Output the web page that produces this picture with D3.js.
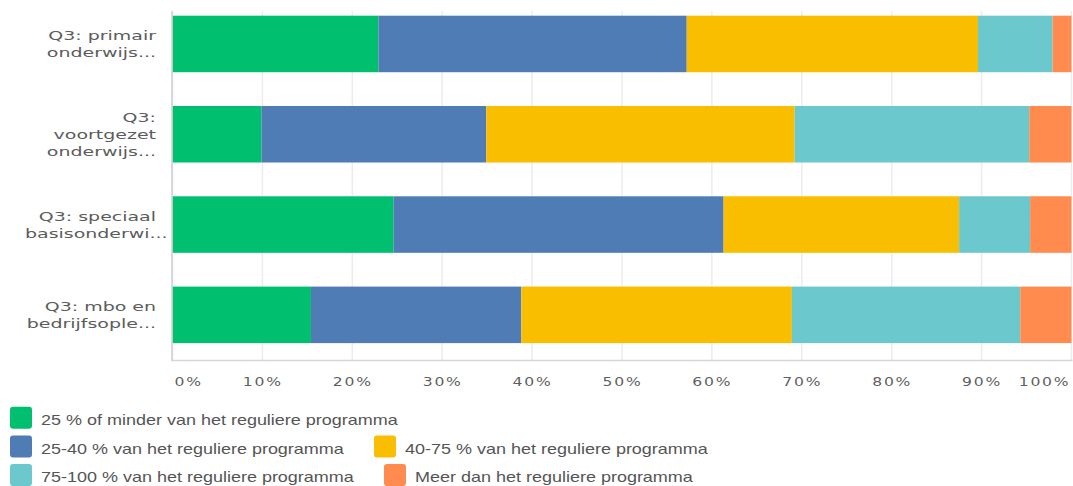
<!DOCTYPE html>
<html><head><meta charset="utf-8">
<script src="https://cdn.jsdelivr.net/npm/d3@7"></script>
<style>body{margin:0;background:#fff;} svg{display:block;}</style>
</head><body>
<svg id="chart" width="1073" height="486"></svg>
<script>
// ---- data ----
const categories = [
  ["Q3: primair", "onderwijs..."],
  ["Q3:", "voortgezet", "onderwijs..."],
  ["Q3: speciaal", "basisonderwi..."],
  ["Q3: mbo en", "bedrijfsople..."]
];
const seriesNames = [
  "25 % of minder van het reguliere programma",
  "25-40 % van het reguliere programma",
  "40-75 % van het reguliere programma",
  "75-100 % van het reguliere programma",
  "Meer dan het reguliere programma"
];
const seriesColors = ["#00BF6F", "#507CB6", "#F9BE00", "#6BC8CD", "#FF8B4F"];
const lessThan25 = [22.9, 9.9, 24.6, 15.4];
const from25to40 = [34.3, 25.0, 36.7, 23.4];
const from40to75 = [32.4, 34.3, 26.2, 30.1];
const from75to100 = [8.3, 26.1, 7.9, 25.4];
const moreThan = [2.1, 4.7, 4.6, 5.7];
const tickValues = [0, 10, 20, 30, 40, 50, 60, 70, 80, 90, 100];
const tickLabels = ["0%", "10%", "20%", "30%", "40%", "50%", "60%", "70%", "80%", "90%", "100%"];

const seriesValues = [lessThan25, from25to40, from40to75, from75to100, moreThan];
const keys = seriesNames.map((d, i) => "s" + i);
const rows = categories.map((c, i) => {
  const o = { idx: i };
  keys.forEach((k, j) => o[k] = seriesValues[j][i]);
  return o;
});

// ---- layout ----
const svg = d3.select("#chart");
const x = d3.scaleLinear().domain([0, 100]).range([172.5, 1071.5]);
const y = d3.scaleBand().domain(d3.range(categories.length))
  .range([-1.2, 360]).paddingInner(0.374).paddingOuter(0.187);
const color = d3.scaleOrdinal().domain(keys).range(seriesColors);

// grid
svg.append("g").selectAll("line").data(tickValues).join("line")
  .attr("x1", d => x(d)).attr("x2", d => x(d))
  .attr("y1", 11).attr("y2", 360)
  .attr("stroke", "#ececec").attr("stroke-width", 1.5);

// bars
const stack = d3.stack().keys(keys)(rows);
svg.append("g").selectAll("g").data(stack).join("g")
  .attr("fill", d => color(d.key))
  .selectAll("rect").data(d => d).join("rect")
  .attr("x", d => x(d[0]))
  .attr("width", d => x(d[1]) - x(d[0]))
  .attr("y", d => y(d.data.idx))
  .attr("height", y.bandwidth());

// axis lines
svg.append("line").attr("x1", x(0) - 0.5).attr("x2", x(0) - 0.5).attr("y1", 11).attr("y2", 361)
  .attr("stroke", "#cfcfcf").attr("stroke-width", 1.5);
svg.append("line").attr("x1", x(0) - 1).attr("x2", x(100) + 1).attr("y1", 360.5).attr("y2", 360.5)
  .attr("stroke", "#d6d6d6").attr("stroke-width", 1.5);

// x axis labels
const axis = d3.axisBottom(x).tickValues(tickValues)
  .tickFormat((d, i) => tickLabels[i]).tickSize(0).tickPadding(0);
const ax = svg.append("g").attr("transform", "translate(0,360)").call(axis);
ax.select(".domain").remove();
const nT = tickValues.length;
ax.selectAll("text")
  .attr("y", null).attr("dy", null)
  .attr("fill", "#5f5f5f")
  .attr("font-family", "'DejaVu Sans', sans-serif")
  .attr("font-size", 12)
  .attr("letter-spacing", 1.4)
  .attr("text-anchor", (d, i) => i === 0 ? "start" : (i === nT - 1 ? "end" : "middle"))
  .attr("transform", (d, i) => {
    const off = i === 0 ? 1.5 : (i === nT - 1 ? -1.5 : 0);
    return `translate(${off},26) scale(1.3,1)`;
  });

// y labels
const labelRight = 156, labelLeft = 25, lineH = 17, ySX = 1.46;
const yl = svg.append("g");
categories.forEach((lines, i) => {
  const cy = y(i) + y.bandwidth() / 2;
  lines.forEach((ln, j) => {
    const ty = cy + (j - (lines.length - 1) / 2) * lineH + 4.6;
    const t = yl.append("text")
      .text(ln)
      .attr("fill", "#5c5c5c")
      .attr("font-family", "'DejaVu Sans', sans-serif")
      .attr("font-size", 13)
      .attr("text-anchor", "end")
      .attr("transform", `translate(${labelRight},${ty}) scale(${ySX},1)`);
    const w = t.node().getComputedTextLength() * ySX;
    if (w > labelRight - labelLeft) {
      t.attr("text-anchor", "start")
        .attr("transform", `translate(${labelLeft},${ty}) scale(${ySX},1)`);
    }
  });
});

// legend (flow layout)
const lg = svg.append("g");
const legLeft = 10, legMaxRight = 740, legTop = 406.7, rowStep = 28.7, sw = 22, txtGap = 9, itemGap = 30, lSX = 1.285;
let cx = legLeft, row = 0;
seriesNames.forEach((name, i) => {
  const g = lg.append("g");
  const t = g.append("text").text(name)
    .attr("fill", "#555")
    .attr("font-family", "'Liberation Sans', Arial, sans-serif")
    .attr("font-size", 14);
  const tw = t.node().getComputedTextLength() * lSX;
  const itemW = sw + txtGap + tw;
  if (cx > legLeft && cx + itemW > legMaxRight) { row += 1; cx = legLeft; }
  const top = legTop + row * rowStep;
  g.insert("rect", "text")
    .attr("x", cx).attr("y", top).attr("width", sw).attr("height", sw)
    .attr("rx", 3).attr("fill", seriesColors[i]);
  t.attr("transform", `translate(${cx + sw + txtGap},${top + 18.3}) scale(${lSX},1)`);
  cx += itemW + itemGap;
});
</script>
</body></html>
